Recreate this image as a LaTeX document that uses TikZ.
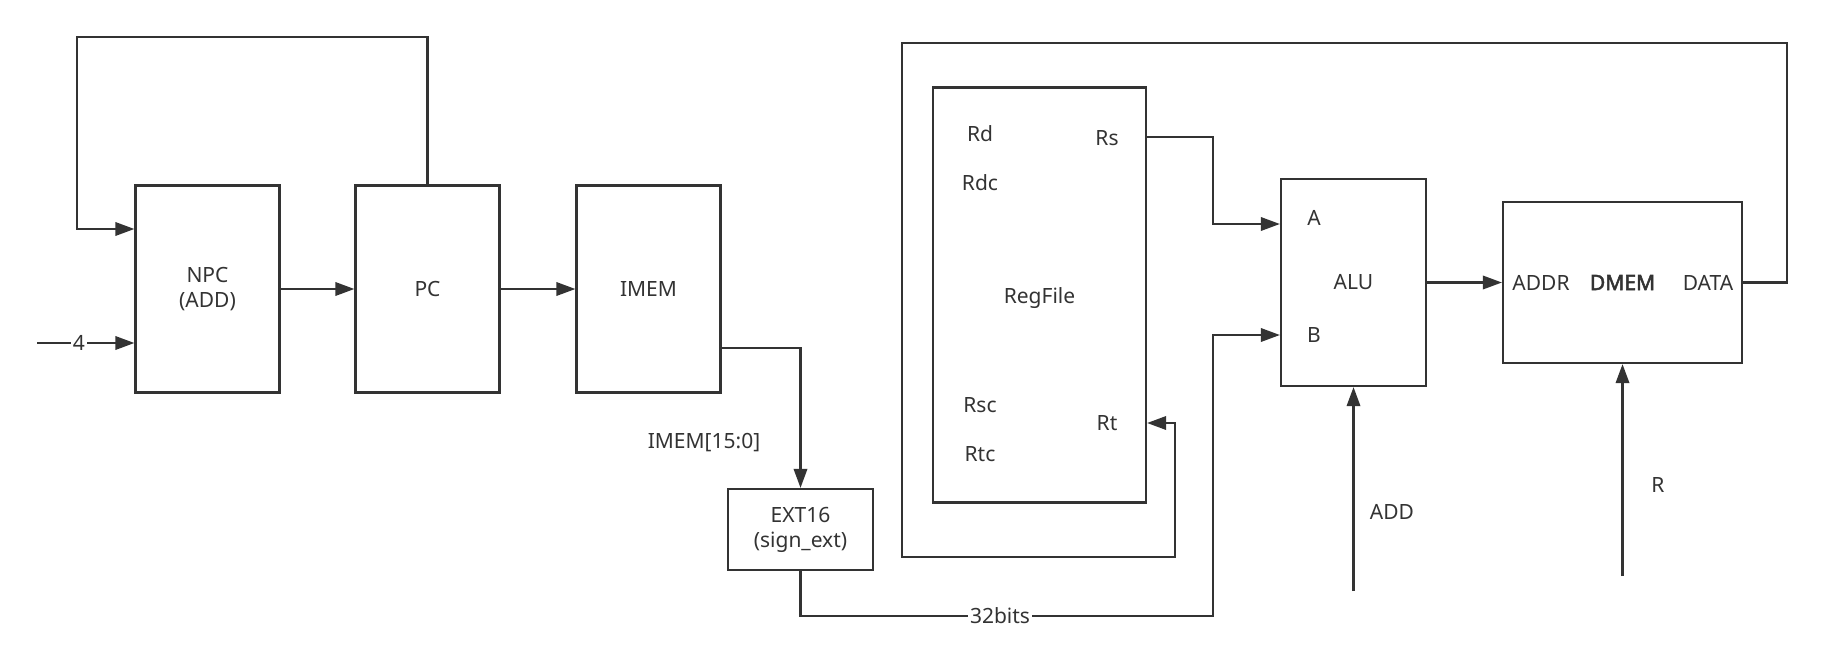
\documentclass[tikz,border=0pt]{standalone}
\usepackage{fontspec}
\setmainfont{Noto Sans}[AutoFakeBold=2.5]
\usetikzlibrary{arrows.meta}
\definecolor{wire}{HTML}{333333}

\begin{document}
\begin{tikzpicture}[x=0.5pt, y=-0.5pt, line width=1.1pt, color=wire,
	font=\fontsize{10.5}{12.5}\selectfont, >={Triangle[length=9.5pt,width=6.7pt]},
	blk/.style={draw, rectangle, inner sep=0pt, align=center}]
	\useasboundingbox (0,0) rectangle (1824,669);
	
	% blocks
	\node[blk, minimum width=72pt, minimum height=103.5pt] (npc) at (207.5,289) {NPC\\(ADD)};
	\node[blk, minimum width=72pt, minimum height=103.5pt] (pc) at (427.5,289) {PC};
	\node[blk, minimum width=72pt, minimum height=103.5pt] (imem) at (648.5,289) {IMEM};
	\node[blk, minimum width=72.5pt, minimum height=40.5pt] (ext) at (800.5,529.5) {EXT16\\(sign\_ext)};
	\node[blk, minimum width=106.5pt, minimum height=207.5pt] (rf) at (1039.5,295) {};
	\node[blk, minimum width=72.5pt, minimum height=103.5pt] (alu) at (1353.5,282.5) {ALU};
	\node[blk, minimum width=119.5pt, minimum height=80.5pt] (dmem) at (1622.5,282.5) {\textbf{DMEM}};
	\node (rf-lbl) at (1039.5,298) {RegFile};
	
	% port labels
	\foreach \t/\x/\y in {Rd/980/134, Rdc/980/183, Rs/1107/138, Rsc/980/405, Rtc/980/454, Rt/1107/423,
		A/1314/218, B/1314/335, ADDR/1541/283, DATA/1708/283}
	\node (p-\t) at (\x,\y) {\t};
	
	\coordinate (four) at (37,343);
	\coordinate (addin) at (1353.5,591);
	\coordinate (rin) at (1622.5,576);
	
	% wires
	\draw[->] (pc.north) |- (77,37) |- (npc.west |- 0,229);
	\draw[->] (four) -- node[fill=white, inner sep=1pt, pos=.43] (four-lbl) {4} (npc.west |- four);
	\draw[->] (npc) -- (pc);
	\draw[->] (pc) -- (imem);
	\draw[->] (imem.east |- 0,348) -| (ext.north);
	\node (ext-lbl) at (704,443) {IMEM[15:0]};
	\draw[->] (ext.south) |- (1213,616) |- (alu.west |- 0,335);
	\node[fill=white, inner sep=1pt] (bits) at (1000,616) {32bits};
	\draw[->] (rf.east |- 0,137) -| (1213,224) -- (alu.west |- 0,224);
	\draw[->] (alu) -- (dmem);
	\draw[->] (dmem.east) -| (1787,43) -| (902,557) -| (1175,423) -- (rf.east |- 0,423);
	\draw[->] (addin) -- (alu.south);
	\node (add-lbl) at (1392,512) {ADD};
	\draw[->] (rin) -- (dmem.south);
	\node (r-lbl) at (1658,485) {R};
\end{tikzpicture}
\end{document}
